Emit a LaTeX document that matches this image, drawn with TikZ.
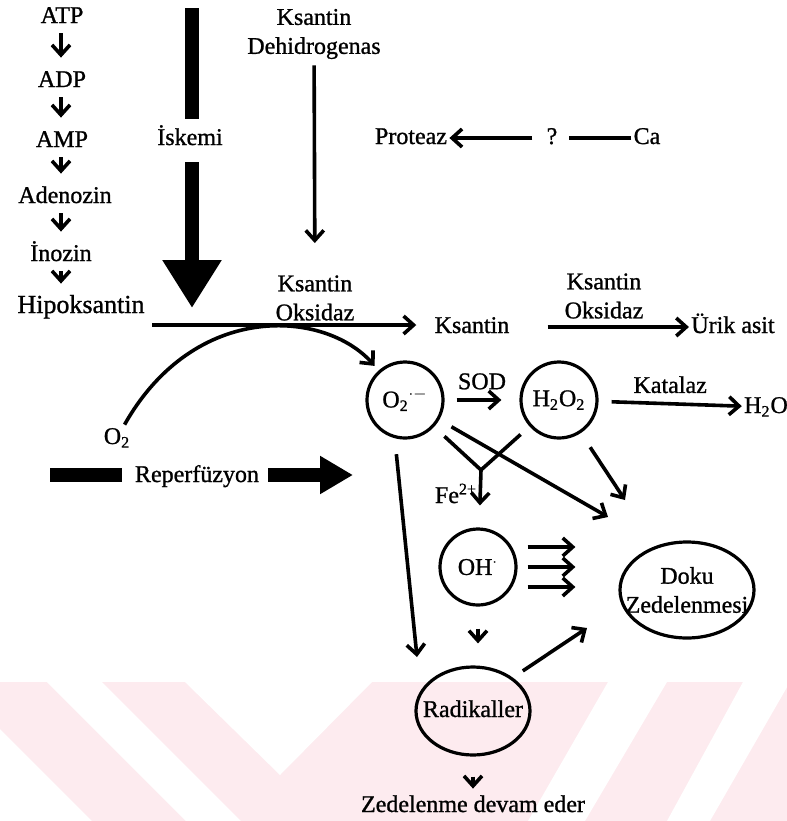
\documentclass[tikz,border=0pt]{standalone}
\usepackage{fontspec}
\setmainfont{Liberation Serif}[FakeBold=1]
\usetikzlibrary{arrows.meta}
\usetikzlibrary{shapes.geometric}
\usetikzlibrary{calc}
\definecolor{wmpink}{HTML}{FDEBEF}

\begin{document}
\begin{tikzpicture}[
  x=0.5pt, y=-0.5pt,
  txt/.style={inner sep=1pt, text height=8.5pt, text depth=2.5pt,
    font=\fontsize{12}{14}\selectfont},
  twoline/.style={inner sep=1pt, align=center,
    font=\fontsize{12}{14.5}\selectfont},
  arr/.style={-{Straight Barb[length=5pt, width=9pt]}, line width=1.8pt},
  plain/.style={line width=1.8pt},
  blob/.style={circle, draw, line width=1.6pt, minimum size=38pt,
    inner sep=0pt, font=\fontsize{12}{14}\selectfont},
  oval/.style={ellipse, draw, line width=1.6pt, inner sep=0pt},
  bigbar/.style={line width=7pt},
  bigarr/.style={line width=7pt, -{Triangle[length=24pt, width=28pt]}},
]
\useasboundingbox (0,0) rectangle (787,821);
% === Background watermark ===
\fill[white] (0,0) rectangle (787,821);
\fill[wmpink] (0,682) rectangle (787,821);
\fill[white] (47,682) -- (102,682) -- (241,821) -- (186,821) -- cycle;
\fill[white] (0,729) -- (92,821) -- (0,821) -- cycle;
\fill[white] (185,682) -- (372,682) -- (280,775) -- cycle;
\fill[white] (608,682) -- (667,682) -- (585,821) -- (528,821) -- cycle;
\fill[white] (743,682) -- (790,682) -- (710,821) -- (667,821) -- cycle;

% === Left column: nucleotide breakdown ===
\node[txt] (atp) at (62,17) {ATP};
\node[txt] (adp) at (62,81) {ADP};
\node[txt] (amp) at (62,141) {AMP};
\node[txt] (aden) at (65,197) {Adenozin};
\node[txt] (ino) at (61,255) {İnozin};
\node[txt, font=\fontsize{13}{15}\selectfont] (hipo) at (81,307) {Hipoksantin};
\foreach \a/\b in {atp/adp, adp/amp, amp/aden, aden/ino, ino/hipo}
  \draw[arr, shorten <=1.5pt, shorten >=5pt] (\a.south -| ino) -- (\b.north -| ino);

% === Ischemia ===
\node[txt] (iskemi) at (190,139) {İskemi};
\coordinate (iskTop) at (192,8);
\coordinate (iskTip) at (192,308);
\draw[bigbar, shorten >=3.5pt] (iskTop) -- (iskTop |- iskemi.north);
\draw[bigarr, shorten <=5pt] (iskTop |- iskemi.south) -- (iskTip);

% === Xanthine dehydrogenase / oxidase ===
\node[twoline] (kdh) at (314,34) {Ksantin\\Dehidrogenas};
\node[twoline] (ko1) at (315,298) {Ksantin\\Oksidaz};
\draw[arr, shorten <=2pt, shorten >=15pt] (kdh) -- (ko1);
\node[txt] (ksantin) at (472,327) {Ksantin};
\coordinate (xoStart) at (152,325);
\draw[arr, shorten >=8pt] (xoStart) -- (xoStart -| ksantin.west);
\node[twoline] (ko2) at (604,296) {Ksantin\\Oksidaz};
\node[txt] (urik) at (733,327) {Ürik asit};
\draw[arr, shorten <=18pt] (ksantin) -- (urik);

% === Protease ===
\node[txt] (proteaz) at (411,138) {Proteaz};
\node[txt] (q) at (552,138) {?};
\node[txt] (ca) at (647,138) {Ca};
\draw[arr, shorten <=6pt] (q) -- (proteaz);
\draw[plain, shorten >=4.5pt] (ca) -- (q);

% === O2 and reperfusion ===
\node[txt] (o2) at (117,438) {O\textsubscript{2}};
\node[txt] (reper) at (197,476) {Reperfüzyon};
\coordinate (repStart) at (50,475);
\coordinate (repTip) at (353,475);
\draw[bigbar, shorten >=5.5pt] (repStart) -- (repStart -| reper.west);
\draw[line width=7pt, -{Triangle[length=16.5pt, width=18pt]}, shorten <=3.5pt] (repStart -| reper.east) -- (repTip);

% === Radicals ===
\node[blob] (sup) at (405,400) {O\textsubscript{2}\textsuperscript{$\cdot-$}};
\node[blob] (h2o2) at (559,400) {H\textsubscript{2}O\textsubscript{2}};
\node[txt] (h2o) at (766,407) {H\textsubscript{2}O};
\node[blob] (oh) at (478,567) {OH\textsuperscript{$\cdot$}};
\node[oval, minimum width=67pt, minimum height=48pt] (doku) at (687,590) {};
\node[twoline] (dokutxt) at (doku) {Doku\\Zedelenmesi};
\node[oval, minimum width=57pt, minimum height=44pt] (rad) at (473,711) {};
\node[txt] (radtxt) at (rad) {Radikaller};
\node[txt] (zde) at (473,806) {Zedelenme devam eder};
\node[txt] (fe) at (456,497) {Fe\textsuperscript{2+}};

\draw[arr, shorten >=3pt] (o2) .. controls (195,300) and (325,310) .. (sup);
\draw[arr, shorten <=6pt, shorten >=9pt] (sup) -- node[txt, above=1pt] {SOD} (h2o2);
\draw[arr, shorten <=6.5pt] (h2o2) -- node[txt, above=1pt] {Katalaz} (h2o);

\coordinate (fej) at (481,470);
\draw[plain, shorten <=7pt] (sup) -- (fej);
\draw[plain, shorten <=6pt] (h2o2) -- (fej);
\draw[arr, shorten >=11pt] (fej) -- (oh);

\coordinate (dkA) at (608,517);
\coordinate (dkB) at (625,500);
\coordinate (dkC) at (587,628);
\coordinate (radTip) at (417,657);
\draw[arr, shorten <=7pt] (sup) -- (dkA);
\draw[arr, shorten <=8.5pt] (h2o2) -- (dkB);
\draw[arr, shorten <=8pt] (sup.255) -- (radTip);
\foreach \dy in {-20,0,20}
  \draw[arr, shorten <=5pt, shorten >=21.5pt] ($(oh.east)+(0,\dy)$) -- ($(oh.east -| doku.west)+(0,\dy)$);
\draw[arr, shorten <=11pt, shorten >=11pt] (oh) -- (oh |- rad.north);
\draw[arr, shorten <=6pt] (rad.40) -- (dkC);
\draw[arr, shorten <=10pt, shorten >=2pt] (rad) -- (zde);
\end{tikzpicture}
\end{document}
